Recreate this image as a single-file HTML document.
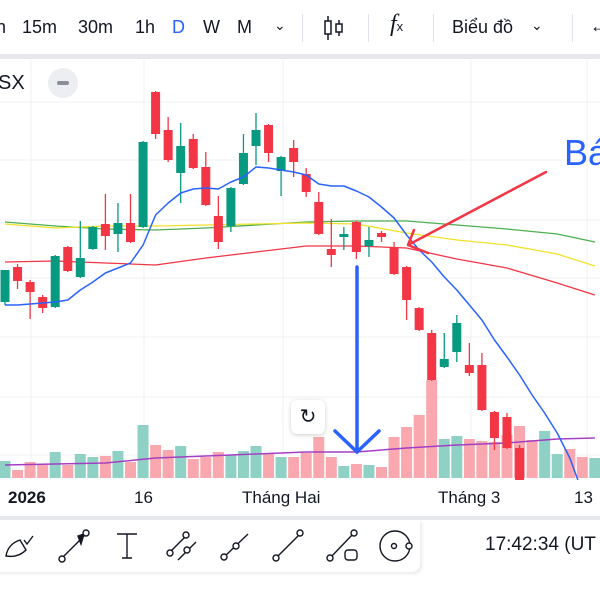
<!DOCTYPE html>
<html><head><meta charset="utf-8">
<style>
body{margin:0;width:600px;height:600px;overflow:hidden;background:#fff;font-family:"Liberation Sans","Noto Sans CJK SC",sans-serif;color:#131722;position:relative}
.t{position:absolute;font-size:18px;line-height:20px;white-space:nowrap}
.sep{position:absolute;width:1px;background:#e0e3eb}
</style></head><body>
<div style="position:absolute;left:0;top:0;width:600px;height:54px;background:#fff">
<div class="t" style="left:-4px;top:17px">n</div>
<div class="t" style="left:22px;top:17px">15m</div>
<div class="t" style="left:78px;top:17px">30m</div>
<div class="t" style="left:135px;top:17px">1h</div>
<div class="t" style="left:172px;top:17px;color:#2962ff">D</div>
<div class="t" style="left:203px;top:17px">W</div>
<div class="t" style="left:237px;top:17px">M</div>
<div class="t" style="left:274px;top:15px;font-size:14px">&#8964;</div>
<div class="sep" style="left:302px;top:14px;height:28px"></div>
<svg style="position:absolute;left:322px;top:14px" width="24" height="28"><g stroke="#131722" stroke-width="1.5" fill="none"><line x1="6" y1="2" x2="6" y2="26"/><rect x="3" y="7" width="6" height="13" fill="#fff"/><line x1="17" y1="6" x2="17" y2="22"/><rect x="14" y="10" width="6" height="8" fill="#fff"/></g></svg>
<div class="sep" style="left:368px;top:14px;height:28px"></div>
<div class="t" style="left:390px;top:14px;font-family:'Liberation Serif',serif;font-style:italic;font-size:24px">f<span style="font-size:13px;font-style:normal;font-family:'Liberation Sans'">x</span></div>
<div class="sep" style="left:433px;top:14px;height:28px"></div>
<div class="t" style="left:452px;top:17px">Biểu đồ</div>
<div class="t" style="left:531px;top:15px;font-size:14px">&#8964;</div>
<div class="sep" style="left:572px;top:14px;height:28px"></div>
<div class="t" style="left:590px;top:16px">&#8592;</div>
</div>
<div style="position:absolute;left:0;top:54px;width:600px;height:5px;background:#e6e8ee"></div>

<svg id="chart" style="position:absolute;left:0;top:0" width="600" height="600"></svg>

<div class="t" style="left:-2px;top:73px;font-size:20px">SX</div>
<div style="position:absolute;left:48px;top:68px;width:30px;height:30px;border-radius:15px;background:#eceef2"><div style="position:absolute;left:9px;top:13px;width:12px;height:4px;border-radius:2px;background:#8a8e99"></div></div>
<div class="t" style="left:564px;top:134px;font-size:36px;line-height:38px;color:#2962ff">Bá</div>
<div style="position:absolute;left:291px;top:400px;width:34px;height:34px;border-radius:6px;background:#fff;box-shadow:0 1px 4px rgba(0,0,0,0.2);font-size:20px;line-height:34px;text-align:center">&#8635;</div>

<div class="t" style="left:8px;top:488px;font-weight:bold;font-size:17px">2026</div>
<div class="t" style="left:134px;top:488px;font-size:17px">16</div>
<div class="t" style="left:242px;top:488px;font-size:17px">Tháng Hai</div>
<div class="t" style="left:438px;top:488px;font-size:17px">Tháng 3</div>
<div class="t" style="left:574px;top:488px;font-size:17px">13</div>
<div style="position:absolute;left:0;top:516px;width:600px;height:4px;background:#e6e8ee"></div>

<div style="position:absolute;left:-10px;top:520px;width:430px;height:52px;border-radius:0 0 8px 0;box-shadow:2px 2px 3px rgba(0,0,0,0.08);background:#fff"></div>
<svg style="position:absolute;left:0;top:522px" width="420" height="48"><g stroke="#131722" stroke-width="1.4" fill="#fff">
<path d="M6 34 Q8 22 20 18 L26 28 Q18 36 6 34 Z M24 18 L27 22 L33 14" fill="none"/>
<g><line x1="62" y1="36" x2="84" y2="14"/><path d="M78 14 L84 12 L81 22 Z" fill="#131722"/><circle cx="62" cy="37" r="3"/><circle cx="86" cy="11" r="3"/></g>
<g fill="none"><path d="M117 12 H137 M127 12 V36 M122 36 H132"/></g>
<g><line x1="170" y1="30" x2="186" y2="14"/><line x1="178" y1="38" x2="196" y2="20"/><circle cx="170" cy="31" r="3"/><circle cx="186" cy="13" r="3"/><circle cx="187" cy="28" r="3"/></g>
<g><line x1="223" y1="36" x2="248" y2="12"/><circle cx="224" cy="35" r="3"/><circle cx="236" cy="24" r="3"/></g>
<g><line x1="276" y1="36" x2="300" y2="12"/><circle cx="276" cy="36" r="3"/><circle cx="300" cy="11" r="3"/></g>
<g><line x1="330" y1="36" x2="353" y2="12"/><circle cx="330" cy="36" r="3"/><circle cx="354" cy="11" r="3"/><rect x="345" y="28" width="12" height="10" rx="3"/></g>
<g><circle cx="395" cy="24" r="15"/><circle cx="394" cy="24" r="2.5"/><circle cx="409" cy="24" r="3"/></g>
</g></svg>
<div class="t" style="left:485px;top:535px;font-size:19px">17:42:34 (UT</div>

<script>
const candleOpen  = [178,213,198,183,173,233,203,231,256,246,257,253,388,350,307,341,313,264,254,296,334,355,309,332,306,278,231,243,258,234,247,232,213,172,147,113,128,115,115,68,63,32];
const candleHigh  = [210,216,200,185,225,234,259,254,286,277,286,339,389,363,357,346,328,284,293,346,367,356,324,340,312,288,261,253,259,253,249,238,214,173,150,147,165,137,127,69,67,35];
const candleLow   = [175,191,161,167,172,208,202,230,230,228,237,252,341,318,277,311,274,231,248,295,315,318,284,303,283,245,213,230,221,223,238,205,160,149,99,112,118,104,69,30,31,-8];
const candleClose = [210,199,188,172,224,209,222,253,244,257,238,338,346,320,334,312,275,238,292,327,350,327,323,318,288,246,225,246,228,240,243,206,180,150,100,121,157,107,70,42,32,-5];
const volumes = [17,8,16,13,26,13,24,21,22,27,16,53,33,28,32,19,21,26,23,27,32,24,21,21,25,41,21,12,14,13,11,41,51,63,98,39,42,39,37,36,43,52,38,47,24,29,21,20];
const volumeUp = [1,0,0,0,1,0,1,1,0,1,0,1,0,0,1,0,0,0,1,1,1,0,1,0,0,0,0,1,0,1,0,0,0,0,0,1,1,0,0,0,0,0,0,1,1,0,0,1];
const maFast = [175,175,176,177,178,180,190,198,207,212,217,235,265,277,287,291,292,291,298,303,313,312,310,308,305,296,294,294,289,283,273,262,245,230,218,203,190,175,160,140,123,105,85,67,47,22,-12];
const maIndex = [0,4,8,12,16,20,24,28,32,36,40,44,47];
const maRed    = [218,219,217,215,222,228,234,234,232,221,212,197,185];
const maYellow = [256,252,254,254,255,256,257,256,247,240,235,226,214];
const maGreen  = [258,254,251,250,252,255,258,259,259,255,251,246,238];
const volMa    = [13,14,15,20,22,24,26,26,30,33,35,39,40];

const NS='http://www.w3.org/2000/svg';
const svg=document.getElementById('chart');
function x(i){return 5+i*12.55;}
function y(p){return 480-p;}
function vy(v){return 478-v;}
function mk(tag,attrs,parent){const e=document.createElementNS(NS,tag);for(const k in attrs)e.setAttribute(k,attrs[k]);(parent||svg).appendChild(e);return e;}
const defs=mk('defs',{});
const cp=mk('clipPath',{id:'clip'},defs);mk('rect',{x:0,y:60,width:600,height:420},cp);
const g=mk('g',{'clip-path':'url(#clip)'});


[102,160,220,278,337,397,455].forEach(gy=>{const l=mk('line',{x1:0,x2:600,y1:gy,y2:gy,stroke:'#f0f1f4','stroke-width':1},g);

});
[31,144,283,471,587].forEach(gx=>{const l=mk('line',{x1:gx,x2:gx,y1:60,y2:480,stroke:'#f0f1f4','stroke-width':1},g);

});
volumes.forEach((v,i)=>{const r=mk('rect',{x:x(i)-5.5,y:vy(v),width:11,height:v,fill:volumeUp[i]?'#8fd1c4':'#f8a8ae'},g);

});
function line(idx,vals,sc,color,w,name){const pts=vals.map((v,k)=>x(idx?idx[k]:k).toFixed(1)+','+sc(v).toFixed(1)).join(' ');
const p=mk('polyline',{points:pts,fill:'none',stroke:color,'stroke-width':w,'stroke-linejoin':'round'},g);

}
line(maIndex,volMa,vy,'#a43fc4',1.5,'volume-ma-line');
line(maIndex,maGreen,y,'#4caf50',1.3,'ma-green-line');
line(maIndex,maYellow,y,'#f2e12a',1.3,'ma-yellow-line');
line(maIndex,maRed,y,'#f23645',1.3,'ma-red-line');
candleOpen.forEach((o,i)=>{const c=candleClose[i];const up=c>=o;const col=up?'#089981':'#f23645';
const w=mk('line',{x1:x(i),x2:x(i),y1:y(candleHigh[i]),y2:y(candleLow[i]),stroke:col,'stroke-width':1.3},g);


const top=y(Math.max(o,c)),h=Math.max(2,Math.abs(o-c));
const b=mk('rect',{x:x(i)-4.5,y:top,width:9,height:h,fill:col},g);

});
line(null,maFast,y,'#2962ff',1.5,'ma-fast-line');
const ar=mk('g',{stroke:'#f23645','stroke-width':2.5,fill:'none','stroke-linecap':'round'});


mk('path',{d:'M546 172 L408 245 M408 245 L414 230 M408 245 L428 253'},ar);
const ba=mk('g',{stroke:'#2962ff','stroke-width':3.5,fill:'none','stroke-linecap':'round'});


mk('path',{d:'M357 267 L357 452 M335 431 L357 452 L379 431'},ba);
</script>
</body></html>
